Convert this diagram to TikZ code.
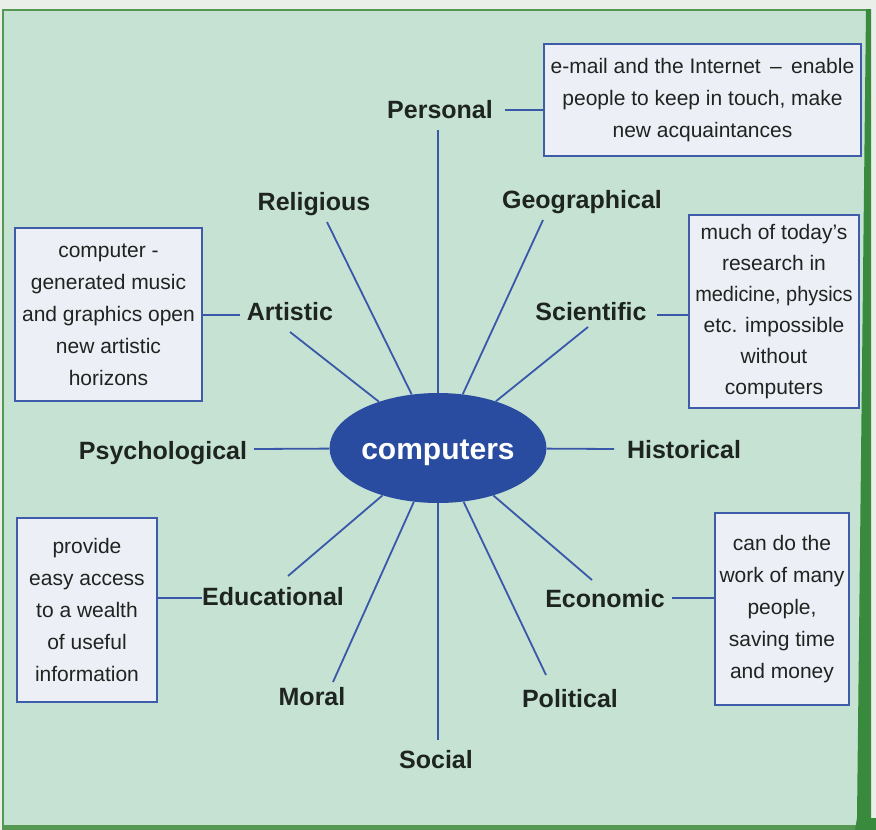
\documentclass[tikz,border=0pt]{standalone}
\usepackage{fontspec}
\usepackage{graphicx}
\setmainfont{Liberation Sans}
\usetikzlibrary{shapes.geometric}
\definecolor{outside}{RGB}{234,239,234}
\definecolor{bggreen}{RGB}{197,226,211}
\definecolor{framegreen}{RGB}{84,152,84}
\definecolor{bandgreen}{RGB}{58,138,62}
\definecolor{boxfill}{RGB}{237,239,246}
\definecolor{boxline}{RGB}{62,92,170}
\definecolor{spokeblue}{RGB}{58,88,170}
\definecolor{cblue}{RGB}{42,76,160}
\definecolor{labtext}{RGB}{30,36,32}
\begin{document}
\begin{tikzpicture}[x=1pt,y=-1pt,
  lab/.style={font=\bfseries\fontsize{25}{30}\selectfont, text=labtext, inner sep=0pt, anchor=base},
  infobox/.style={draw=boxline, line width=1.4pt, fill=boxfill, inner sep=0pt, align=center,
                  font=\fontsize{21}{32}\selectfont, text=labtext},
  spoke/.style={draw=spokeblue, line width=1.8pt},
  link/.style={draw=spokeblue, line width=1.8pt}]
\useasboundingbox (0,0) rectangle (876,830);
% background and frame
\fill[outside] (0,0) rectangle (876,830);
\fill[bggreen] (2,9) rectangle (868,828);
\draw[framegreen, line width=1.6pt] (2.8,828) -- (2.8,9.8) -- (868,9.8);
\fill[framegreen] (2,825) rectangle (876,830);
\fill[bandgreen] (866,9) -- (871,9) -- (871,818) -- (876,818) -- (876,830) -- (855,830) -- (857,818) -- cycle;

% centre
\node[ellipse, fill=cblue, minimum width=213pt, minimum height=110pt, inner sep=0pt,
      text height=23pt, text depth=0pt,
      text=white, font=\bfseries\fontsize{30}{36}\selectfont] (c) at (438,448) {computers};

% labels
\node[lab] (personal) at (440,118) {Personal};
\node[lab] (religious) at (314,210) {Religious};
\node[lab] (geographical) at (582,208) {Geographical};
\node[lab] (artistic) at (290,320) {Artistic};
\node[lab] (scientific) at (591,320) {Scientific};
\node[lab] (psychological) at (163,459) {Psychological};
\node[lab] (historical) at (684,458) {Historical};
\node[lab] (educational) at (273,605) {Educational};
\node[lab] (economic) at (605,607) {Economic};
\node[lab] (moral) at (312,705) {Moral};
\node[lab] (political) at (570,707) {Political};
\node[lab] (social) at (436,768) {Social};

% boxes
\node[infobox, minimum width=317pt, minimum height=112pt] (bmail) at (702.5,100)
  {e-mail and the Internet \,–\, enable\\people to keep in touch, make\\new acquaintances};
\node[infobox, minimum width=187pt, minimum height=173pt] (bart) at (108.5,314.5)
  {computer -\\generated music\\and graphics open\\new artistic\\horizons};
\node[infobox, minimum width=170pt, minimum height=193pt, font=\fontsize{21}{31}\selectfont] (bsci) at (774,311.5)
  {much of today’s\\research in\\\scalebox{0.95}[1]{medicine, physics}\\etc. impossible\\without\\computers};
\node[infobox, minimum width=140pt, minimum height=184pt] (bedu) at (87,610)
  {provide\\easy access\\to a wealth\\of useful\\information};
\node[infobox, minimum width=134pt, minimum height=192pt] (beco) at (782,609)
  {can do the\\work of many\\people,\\saving time\\and money};

% spokes
\coordinate (sPersonal) at (438,130);
\coordinate (sReligious) at (327,222);
\coordinate (sGeographical) at (543,220);
\coordinate (sArtistic) at (290,332);
\coordinate (sScientific) at (588,327);
\coordinate (sPsychological) at (254,449);
\coordinate (sHistorical) at (614,449);
\coordinate (sEducational) at (288,576);
\coordinate (sEconomic) at (592,580);
\coordinate (sMoral) at (333,682);
\coordinate (sPolitical) at (546,675);
\coordinate (sSocial) at (438,740);
\foreach \s in {Personal,Religious,Geographical,Artistic,Scientific,Psychological,Historical,Educational,Economic,Moral,Political,Social}
  \draw[spoke] (s\s) -- (c);

% label-to-box links
\coordinate (lP) at (505,110);
\draw[link] (lP) -- (lP -| bmail.west);
\coordinate (lA) at (240,315);
\draw[link] (lA) -- (lA -| bart.east);
\coordinate (lS) at (657,315);
\draw[link] (lS) -- (lS -| bsci.west);
\coordinate (lE) at (202,598);
\draw[link] (lE) -- (lE -| bedu.east);
\coordinate (lEc) at (672,598);
\draw[link] (lEc) -- (lEc -| beco.west);
\end{tikzpicture}
\end{document}
